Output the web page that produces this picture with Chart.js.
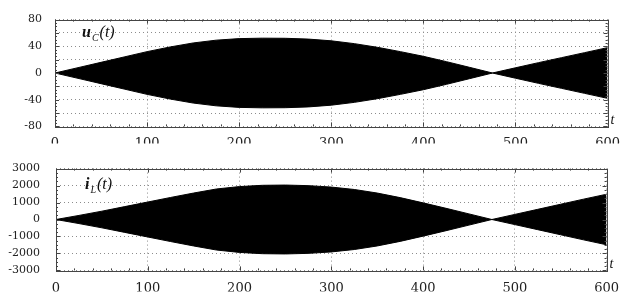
<!DOCTYPE html>
<html>
<head>
<meta charset="utf-8">
<script src="https://cdn.jsdelivr.net/npm/chart.js@4.4.1/dist/chart.umd.min.js"></script>
<style>
  html, body { margin: 0; padding: 0; background: #fff; }
  #wrap { position: relative; width: 629px; height: 293px; }
  canvas { position: absolute; left: 0; }
</style>
</head>
<body>
<div id="wrap">
  <canvas id="ucChart" width="629" height="146" style="top:0"></canvas>
  <canvas id="ilChart" width="629" height="147" style="top:146px"></canvas>
</div>
<script>
// time samples
const tValues = [0, 25, 50, 75, 100, 125, 150, 175, 200, 225, 250, 275, 300, 325, 350, 375, 400, 425, 450, 475, 500, 525, 550, 575, 600];

// u_C(t) envelope
const ucUpper = [0, 8, 16, 24, 32, 39, 45, 49.2, 51.5, 52.2, 52, 50.8, 48.2, 44, 38.5, 32, 25, 17, 8.5, 0, 7.8, 15.5, 23, 30.5, 38];
const ucLower = [0, -8, -16, -24, -32, -39, -45, -49.2, -51.5, -52.2, -52, -50.8, -48.2, -44, -38.5, -32, -25, -17, -8.5, 0, -7.8, -15.5, -23, -30.5, -38];

// i_L(t) envelope
const ilUpper = [0, 240, 490, 760, 1030, 1300, 1560, 1800, 1940, 2015, 2030, 1995, 1910, 1770, 1560, 1290, 980, 660, 330, 0, 300, 600, 900, 1200, 1490];
const ilLower = [0, -240, -490, -760, -1030, -1300, -1560, -1800, -1940, -2015, -2030, -1995, -1910, -1770, -1560, -1290, -980, -660, -330, 0, -300, -600, -900, -1200, -1490];

// tick labels
const tTicks = [0, 100, 200, 300, 400, 500, 600];
const ucTicks = [-80, -40, 0, 40, 80];
const ilTicks = [-3000, -2000, -1000, 0, 1000, 2000, 3000];

const TEXT = '#222';
const SERIF = '"DejaVu Serif", serif';
const GRID = '#8c8c8c';

const pts = (ys) => ys.map((y, i) => ({ x: tValues[i], y }));

// frame with little inward ticks on all four sides, plus the curve name
const framePlugin = {
  id: 'frame',
  afterDraw(chart, args, opts) {
    const { ctx, chartArea: a, scales } = chart;
    ctx.save();
    ctx.strokeStyle = '#444';
    ctx.lineWidth = 1;
    ctx.strokeRect(Math.round(a.left) + 0.5, Math.round(a.top) + 0.5, Math.round(a.right - a.left), Math.round(a.bottom - a.top));
    ctx.beginPath();
    for (let v = scales.x.min; v <= scales.x.max; v += 20) {
      const px = Math.round(scales.x.getPixelForValue(v)) + 0.5;
      const len = v % 100 === 0 ? 4 : 2;
      ctx.moveTo(px, a.bottom); ctx.lineTo(px, a.bottom - len);
      ctx.moveTo(px, a.top); ctx.lineTo(px, a.top + len);
    }
    for (let v = scales.y.min; v <= scales.y.max; v += opts.yMinor) {
      const py = Math.round(scales.y.getPixelForValue(v)) + 0.5;
      const len = v % opts.yMajor === 0 ? 4 : 2;
      ctx.moveTo(a.left, py); ctx.lineTo(a.left + len, py);
      ctx.moveTo(a.right, py); ctx.lineTo(a.right - len, py);
    }
    ctx.stroke();

    ctx.fillStyle = '#111';
    ctx.textBaseline = 'alphabetic';
    ctx.font = 'italic bold 16px "Liberation Serif", serif';
    const [lx, ly] = opts.labelPos;
    ctx.fillText(opts.name, lx, ly);
    const w = ctx.measureText(opts.name).width;
    ctx.font = 'italic 10px "Liberation Serif", serif';
    ctx.fillText(opts.sub, lx + w + 1, ly + 4);
    const ws = ctx.measureText(opts.sub).width;
    ctx.font = 'italic 16px "Liberation Serif", serif';
    ctx.fillText('(t)', lx + w + ws + 2, ly);
    ctx.font = 'italic 14px "Liberation Serif", serif';
    ctx.fillText('t', a.right + 3, a.bottom - 2);
    ctx.restore();
  },
};

function makeChart(id, upper, lower, cfg) {
  return new Chart(document.getElementById(id), {
    type: 'line',
    data: {
      datasets: [
        { data: pts(upper), borderColor: '#000', backgroundColor: '#000', borderWidth: 1, pointRadius: 0, fill: '+1', tension: 0 },
        { data: pts(lower), borderColor: '#000', backgroundColor: '#000', borderWidth: 1, pointRadius: 0, fill: false, tension: 0 },
      ],
    },
    options: {
      responsive: false,
      animation: false,
      devicePixelRatio: 1,
      layout: { padding: { top: cfg.padTop, right: 7, left: 0, bottom: 0 } },
      plugins: {
        legend: { display: false },
        tooltip: { enabled: false },
        frame: { yMinor: cfg.yMinor, yMajor: cfg.yMajor, name: cfg.name, sub: cfg.sub, labelPos: cfg.labelPos },
      },
      scales: {
        x: {
          type: 'linear',
          min: 0,
          max: 600,
          afterBuildTicks: (s) => { s.ticks = tTicks.map((v) => ({ value: v })); },
          afterFit: (s) => { s.height = cfg.xHeight; },
          ticks: { color: TEXT, font: { family: SERIF, size: 13 }, padding: cfg.xPad, maxRotation: 0 },
          grid: { color: GRID, drawTicks: false },
          border: { display: false, dash: [1, 3] },
        },
        y: {
          min: cfg.yTicks[0],
          max: cfg.yTicks[cfg.yTicks.length - 1],
          afterBuildTicks: (s) => {
            const out = [];
            for (let v = s.min; v <= s.max; v += cfg.yGrid) out.push({ value: v });
            s.ticks = out;
          },
          afterFit: (s) => { s.width = cfg.left; },
          ticks: {
            color: TEXT,
            font: { family: SERIF, size: 11 },
            padding: cfg.yPad,
            callback: (v) => (cfg.yTicks.includes(v) ? String(v) : ''),
          },
          grid: { color: GRID, drawTicks: false },
          border: { display: false, dash: [1, 3] },
        },
      },
    },
    plugins: [framePlugin],
  });
}

makeChart('ucChart', ucUpper, ucLower, {
  padTop: 10, xHeight: 17, xPad: 9, left: 55, yPad: 13,
  yTicks: ucTicks, yGrid: 20, yMinor: 5, yMajor: 20,
  name: 'u', sub: 'C', labelPos: [82, 37],
});

makeChart('ilChart', ilUpper, ilLower, {
  padTop: 7, xHeight: 21, xPad: 10, left: 56, yPad: 16,
  yTicks: ilTicks, yGrid: 1000, yMinor: 250, yMajor: 1000,
  name: 'i', sub: 'L', labelPos: [85, 43],
});
</script>
</body>
</html>
